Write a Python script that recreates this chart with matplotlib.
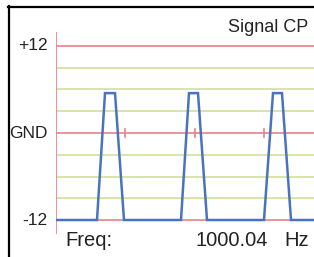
import numpy as np
import matplotlib
matplotlib.use('Agg')
import matplotlib.pyplot as plt
from matplotlib.lines import Line2D

plt.rcParams['font.family'] = ['Liberation Sans', 'DejaVu Sans']

# signal data (time in arbitrary units, level in volts)
sig_t = [0, 41, 49, 59, 68, 125, 133, 142, 151, 208, 217, 226, 235, 258]
sig_v = [-12, -12, 5.5, 5.5, -12, -12, 5.5, 5.5, -12, -12, 5.5, 5.5, -12, -12]
gnd_ticks = [69, 139, 208]
red_levels = [12, 0, -12]
green_levels = [9, 6, 3, -3, -6, -9]
y_labels = ['+12', 'GND', '-12']
title = 'Signal CP'
freq_label = 'Freq:'
freq_value = '1000.04'
freq_unit = 'Hz'

W, H = 314, 257
fig = plt.figure(figsize=(W / 100, H / 100), dpi=100)
fig.patch.set_facecolor('white')

def fx(px):
    return px / W

def fy(py):
    return 1 - py / H

ax = fig.add_axes([fx(56), fy(234), fx(W - 56), (234 - 32) / H])
ax.set_xlim(0, 258)
ax.set_ylim(-13.93, 13.93)
ax.axis('off')

red = '#e8808a'
green = '#cfdf9a'
blue = '#4a72c2'

for lv in green_levels:
    ax.axhline(lv, color=green, lw=1.2, zorder=1)
for lv in red_levels:
    ax.axhline(lv, color=red, lw=1.2, zorder=2)
ax.axvline(0, color=red, lw=1.2, zorder=2)
for t in gnd_ticks:
    ax.plot([t, t], [-0.6, 0.6], color=red, lw=1.2, zorder=2)

ax.plot(sig_t, sig_v, color=blue, lw=1.8, zorder=3, solid_joinstyle='miter')

# frame lines
fig.add_artist(Line2D([fx(8), 1], [fy(7), fy(7)], color='black', lw=1.6))
fig.add_artist(Line2D([fx(9), fx(9)], [fy(6), 0], color='black', lw=1.6))

txt = '#222222'
for lab, lv in zip(y_labels, red_levels):
    ax.annotate(lab, xy=(0, lv), xytext=(-6, 0), textcoords='offset points',
                ha='right', va='center', fontsize=12.5, color=txt)

fig.text(fx(308), fy(32), title, ha='right', va='baseline', fontsize=13, color=txt)
fig.text(fx(65), fy(246), freq_label, ha='left', va='baseline', fontsize=14.5, color=txt)
fig.text(fx(268), fy(246), freq_value, ha='right', va='baseline', fontsize=14.5, color=txt)
fig.text(fx(309), fy(246), freq_unit, ha='right', va='baseline', fontsize=14.5, color=txt)

fig.savefig('out.png', dpi=100)
